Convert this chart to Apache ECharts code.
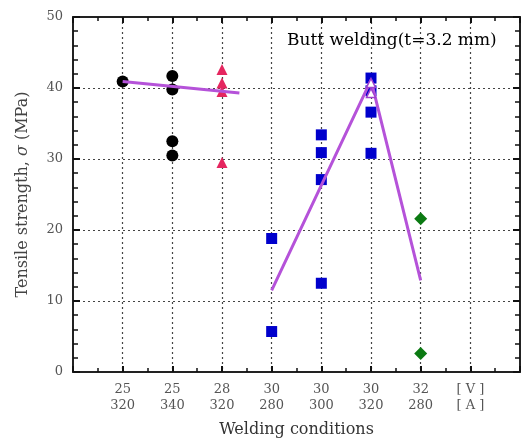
<!DOCTYPE html>
<html>
<head>
<meta charset="utf-8">
<script src="https://cdn.jsdelivr.net/npm/echarts@6/dist/echarts.min.js"></script>
<style>
  html, body { margin: 0; padding: 0; background: #fff; }
  #chart { width: 523px; height: 443px; }
</style>
</head>
<body>
<div id="chart"></div>
<script>
// welding conditions, voltage / current (x index 1..8)
const categories = ['25\n320', '25\n340', '28\n320', '30\n280', '30\n300', '30\n320', '32\n280', '[ V ]\n[ A ]'];
const yTicks = [0, 10, 20, 30, 40, 50];

// measured points [condition index, MPa]
const circlePts = [[1, 40.9], [2, 41.7], [2, 39.8], [2, 32.5], [2, 30.5]];
const trianglePts = [[3, 42.6], [3, 40.7], [3, 39.5], [3, 29.5]];
const squarePts = [[4, 18.8], [4, 5.7], [5, 33.4], [5, 30.9], [5, 27.1], [5, 12.5],
                   [6, 41.4], [6, 39.6], [6, 36.6], [6, 30.8]];
const openTriPts = [[6, 40.7], [6, 39.3]];
const diamondPts = [[7, 21.6], [7, 2.6]];

// fitted trend lines
const trendA = [[1, 40.9], [3.35, 39.3]];
const trendB = [[4, 11.5], [6, 41.1], [7, 12.9]];

const font = 'DejaVu Serif';
const chart = echarts.init(document.getElementById('chart'));

function xAxisBase(pos) {
  return {
    type: 'value', position: pos, min: 0, max: 9, interval: 1,
    axisLine: { show: true, onZero: false, lineStyle: { color: '#222', width: 2 } },
    axisTick: { show: true, inside: true, length: 6, lineStyle: { color: '#111', width: 2 } },
    minorTick: { show: true, splitNumber: 2, length: 4, lineStyle: { color: '#111', width: 1.5 } },
    splitLine: { show: false },
    axisLabel: { show: false }
  };
}
function yAxisBase(pos) {
  return {
    type: 'value', position: pos, min: 0, max: 50, interval: 10,
    axisLine: { show: true, onZero: false, lineStyle: { color: '#222', width: 2 } },
    axisTick: { show: true, inside: true, length: 7, lineStyle: { color: '#111', width: 2 } },
    minorTick: { show: true, splitNumber: 5, length: 5, lineStyle: { color: '#111', width: 1.5 } },
    splitLine: { show: false },
    axisLabel: { show: false }
  };
}

const xBottom = xAxisBase('bottom');
xBottom.name = 'Welding conditions';
xBottom.nameLocation = 'middle';
xBottom.nameGap = 50;
xBottom.nameTextStyle = { fontFamily: font, fontSize: 16, color: '#333' };
xBottom.axisLabel = {
  show: true, margin: 10, fontFamily: font, fontSize: 13, color: '#555', lineHeight: 16,
  formatter: v => (v >= 1 && v <= 8) ? categories[v - 1] : ''
};
xBottom.splitLine = { show: true, showMinLine: false, showMaxLine: false,
  lineStyle: { color: '#444', type: [2, 3], width: 1.2 } };

const yLeft = yAxisBase('left');
yLeft.name = 'Tensile strength, {i|σ} (MPa)';
yLeft.nameLocation = 'middle';
yLeft.nameGap = 42;
yLeft.nameTextStyle = { fontFamily: font, fontSize: 16, color: '#444',
  rich: { i: { fontFamily: font, fontStyle: 'italic', fontSize: 16, color: '#444' } } };
yLeft.axisLabel = { show: true, margin: 10, fontFamily: font, fontSize: 13, color: '#555',
  formatter: v => yTicks.indexOf(v) >= 0 ? String(v) : '' };
yLeft.splitLine = { show: true, showMinLine: false, showMaxLine: false,
  lineStyle: { color: '#444', type: [2, 3], width: 1.2 } };

chart.setOption({
  animation: false,
  backgroundColor: '#fff',
  title: {
    text: 'Butt welding(t=3.2 mm)', left: 282, top: 27,
    textStyle: { fontFamily: font, fontSize: 17, fontWeight: 'normal', color: '#000' }
  },
  grid: { left: 73, right: 2, top: 17, bottom: 70 },
  xAxis: [xBottom, xAxisBase('top')],
  yAxis: [yLeft, yAxisBase('right')],
  series: [
    { type: 'line', data: trendA, symbol: 'none', lineStyle: { color: '#b552d9', width: 3 }, z: 3 },
    { type: 'line', data: trendB, symbol: 'none', lineStyle: { color: '#b552d9', width: 3 }, z: 3 },
    { type: 'scatter', data: circlePts, symbol: 'circle', symbolSize: 12,
      itemStyle: { color: '#000', opacity: 1 }, z: 2 },
    { type: 'scatter', data: trianglePts, symbol: 'triangle', symbolSize: 11,
      itemStyle: { color: '#e5265f', opacity: 1 }, z: 2 },
    { type: 'scatter', data: squarePts, symbol: 'rect', symbolSize: 11,
      itemStyle: { color: '#0000cc', opacity: 1 }, z: 2 },
    { type: 'scatter', data: openTriPts, symbol: 'triangle', symbolSize: 9,
      itemStyle: { color: '#fff', borderColor: '#a040d0', borderWidth: 1.5, opacity: 1 }, z: 4 },
    { type: 'scatter', data: diamondPts, symbol: 'diamond', symbolSize: 13,
      itemStyle: { color: '#0b7a12', opacity: 1 }, z: 2 }
  ]
});
</script>
</body>
</html>
